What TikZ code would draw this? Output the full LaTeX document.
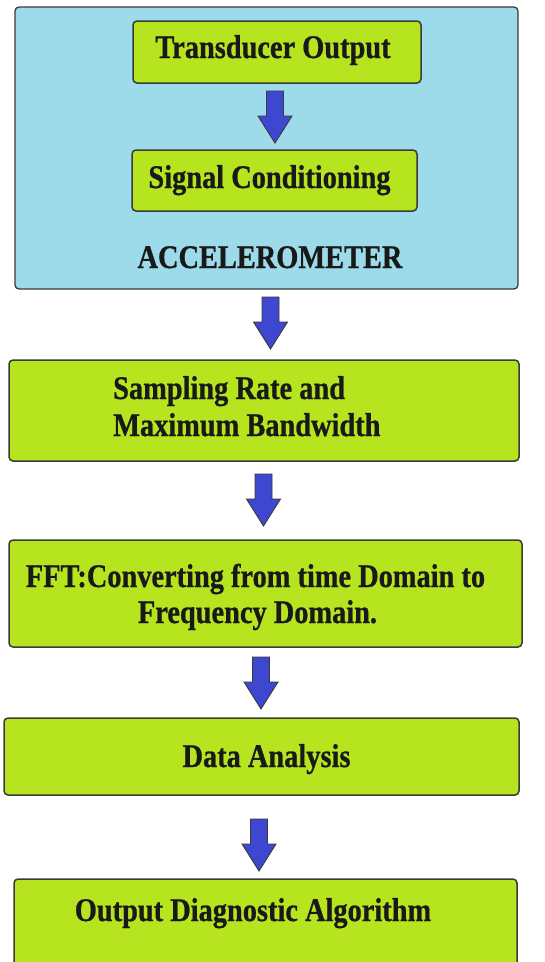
\documentclass[tikz,border=0pt]{standalone}
\usepackage{fontspec}
\setmainfont[BoldFeatures={FakeBold=0.8}]{Liberation Serif}
\definecolor{boxgreen}{HTML}{B6E51F}
\definecolor{panelblue}{HTML}{9DDAEA}
\definecolor{arrowblue}{HTML}{3E47CF}
\definecolor{edgegray}{HTML}{3A3A3A}
% narrow, tall bold lettering
\newcommand\narrowtext[1]{\scalebox{0.86}[1]{#1}}
\tikzset{
  panel/.style={draw=edgegray, line width=1.3pt, fill=panelblue, rounded corners=4pt, inner sep=0pt},
  gbox/.style={draw=edgegray, line width=1.5pt, fill=boxgreen, rounded corners=4pt, inner sep=0pt},
  label/.style={inner sep=0pt, text=black!90, font=\fontsize{33}{40}\selectfont\bfseries},
  blockarrow/.style={draw=edgegray, line width=0.9pt, fill=arrowblue, line join=miter},
  pics/downarrow/.style={code={
    \draw[blockarrow] (-8.5,0) -- (8.5,0) -- (8.5,25) -- (17,25) -- (0,52)
      -- (-17,25) -- (-8.5,25) -- cycle;}}
}
\begin{document}
\begin{tikzpicture}[x=1pt, y=-1pt]
  \useasboundingbox (0,0) rectangle (545,962);
  \clip (0,0) rectangle (545,962);
  \fill[white] (0,0) rectangle (545,962);

  % accelerometer panel with its two stages
  \node[panel, minimum width=503pt, minimum height=282pt] (acc) at (266.5,148) {};
  \node[gbox, minimum width=288pt, minimum height=62pt] (tout) at (277,52) {};
  \node[gbox, minimum width=285pt, minimum height=61pt] (sig) at (274.5,180.5) {};
  \node[label, anchor=base] (toutT) at (273,58) {\narrowtext{Transducer Output}};
  \node[label, anchor=base] (sigT) at (269.5,188) {\narrowtext{Signal Conditioning}};
  \node[label, anchor=base] (accT) at (270,268) {\narrowtext{ACCELEROMETER}};

  % processing chain
  \node[gbox, minimum width=510pt, minimum height=101pt] (samp) at (264,410.5) {};
  \node[gbox, minimum width=513pt, minimum height=107pt] (fft) at (265.5,593.5) {};
  \node[gbox, minimum width=515pt, minimum height=77pt] (data) at (261.5,756.5) {};
  \node[gbox, minimum width=503pt, minimum height=112pt] (outp) at (265.5,935) {};

  \node[label, anchor=base west] (sampA) at (113,399) {\narrowtext{Sampling Rate and}};
  \node[label, anchor=base west] (sampB) at (113,436) {\narrowtext{Maximum Bandwidth}};
  \node[label, anchor=base] (fftA) at (255.5,587) {\narrowtext{FFT:Converting from time Domain to}};
  \node[label, anchor=base] (fftB) at (257.5,623) {\narrowtext{Frequency Domain.}};
  \node[label, anchor=base] (dataT) at (266.5,767) {\narrowtext{Data Analysis}};
  \node[label, anchor=base] (outpT) at (253,921) {\narrowtext{Output Diagnostic Algorithm}};

  % block arrows between the stages
  \pic at (275,91) {downarrow};
  \pic at (270.5,297) {downarrow};
  \pic at (263.5,474) {downarrow};
  \pic at (261,657) {downarrow};
  \pic at (259,819) {downarrow};
\end{tikzpicture}
\end{document}
